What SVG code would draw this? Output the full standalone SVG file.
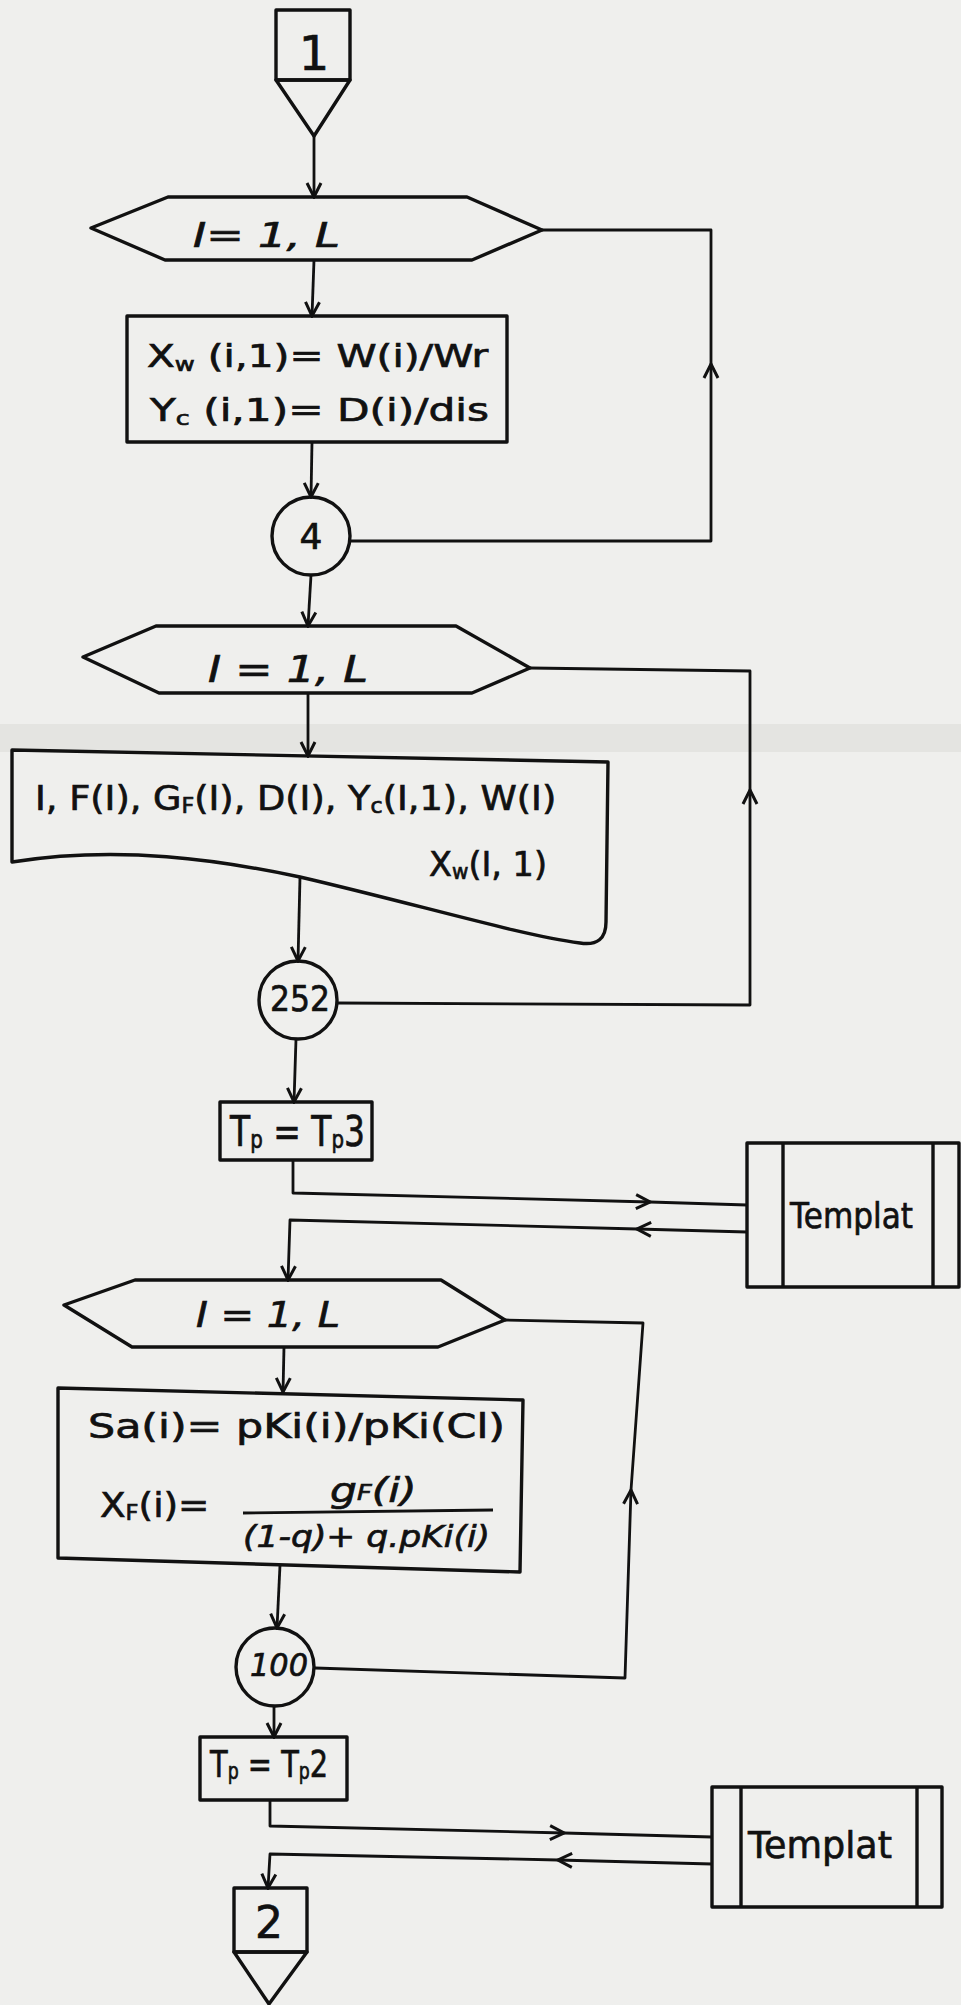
<svg xmlns="http://www.w3.org/2000/svg" width="961" height="2005" viewBox="0 0 961 2005">
  <defs>
    <marker id="arrow" viewBox="-16 -9 18 18" refX="0" refY="0" markerWidth="18" markerHeight="18" markerUnits="userSpaceOnUse" orient="auto">
      <path d="M -14,-7 L 0,0 L -14,7" fill="none" stroke="#111" stroke-width="3" stroke-linejoin="miter"/>
    </marker>
    <style>
      .shape { fill: none; stroke: #111; stroke-width: 3.4; stroke-linejoin: round; }
      .wire { fill: none; stroke: #111; stroke-width: 2.8; stroke-linejoin: round; }
      .t { font-family: "DejaVu Sans", "Liberation Sans", sans-serif; fill: #111; stroke: #111; stroke-width: 0.7; }
      .it { font-style: italic; }
      .sub { font-size: 60%; }
    </style>
  </defs>

  <!-- paper -->
  <rect x="0" y="0" width="961" height="2005" fill="#efefed"/>
  <rect x="0" y="724" width="961" height="28" fill="#d6d6d3" opacity="0.45"/>

  <!-- connectors -->
  <g id="connectors">
    <path class="wire" d="M314,136 L314,197" marker-end="url(#arrow)"/>
    <path class="wire" d="M314,260 L312,316" marker-end="url(#arrow)"/>
    <path class="wire" d="M312,442 L311,497" marker-end="url(#arrow)"/>
    <path class="wire" d="M350,541 L711,541 L711,364" marker-end="url(#arrow)"/>
    <path class="wire" d="M711,364 L711,230 L542,230"/>
    <path class="wire" d="M311,575 L308,626" marker-end="url(#arrow)"/>

    <path class="wire" d="M308,693 L308,756" marker-end="url(#arrow)"/>
    <path class="wire" d="M337,1003 L750,1005 L750,790" marker-end="url(#arrow)"/>
    <path class="wire" d="M750,790 L750,671 L530,668"/>
    <path class="wire" d="M300,877 L298,961" marker-end="url(#arrow)"/>

    <path class="wire" d="M296,1039 L294,1102" marker-end="url(#arrow)"/>
    <path class="wire" d="M293,1160 L293,1193 L650,1202" marker-end="url(#arrow)"/>
    <path class="wire" d="M650,1202 L747,1205"/>
    <path class="wire" d="M747,1232 L637,1229" marker-end="url(#arrow)"/>
    <path class="wire" d="M637,1229 L290,1220 L288,1280" marker-end="url(#arrow)"/>

    <path class="wire" d="M284,1347 L283,1392" marker-end="url(#arrow)"/>
    <path class="wire" d="M315,1668 L625,1678 L631,1490" marker-end="url(#arrow)"/>
    <path class="wire" d="M631,1490 L643,1323 L505,1320"/>
    <path class="wire" d="M280,1565 L277,1628" marker-end="url(#arrow)"/>

    <path class="wire" d="M274,1706 L274,1737" marker-end="url(#arrow)"/>
    <path class="wire" d="M270,1800 L270,1826 L564,1833" marker-end="url(#arrow)"/>
    <path class="wire" d="M564,1833 L712,1837"/>
    <path class="wire" d="M712,1864 L558,1860" marker-end="url(#arrow)"/>
    <path class="wire" d="M558,1860 L270,1854 L268,1888" marker-end="url(#arrow)"/>
  </g>

  <!-- off-page connector 1 -->
  <g id="start-1">
    <rect class="shape" x="276" y="10" width="74" height="70"/>
    <path class="shape" d="M276,80 L350,80 L314,136 Z"/>
    <text class="t" x="314" y="70" font-size="48" text-anchor="middle">1</text>
  </g>

  <!-- first loop -->
  <g id="loop-1">
    <path class="shape" d="M91,228 L168,197 L467,197 L542,230 L472,260 L165,260 Z"/>
    <text class="t it" x="193" y="247" font-size="34" textLength="147" lengthAdjust="spacingAndGlyphs">I= 1, L</text>
  </g>

  <g id="calc-1">
    <rect class="shape" x="127" y="316" width="380" height="126"/>
    <text class="t" font-size="32" transform="translate(147,367) scale(1.27,1)">X<tspan class="sub" dy="4">w</tspan><tspan dy="-4"> (i,1)= W(i)/Wr</tspan></text>
    <text class="t" font-size="32" transform="translate(150,421) scale(1.32,1)">Y<tspan class="sub" dy="4">c</tspan><tspan dy="-4"> (i,1)= D(i)/dis</tspan></text>
  </g>

  <g id="label-4">
    <circle class="shape" cx="311" cy="536" r="39"/>
    <text class="t" x="311" y="549" font-size="36" text-anchor="middle">4</text>
  </g>

  <!-- second loop -->
  <g id="loop-2">
    <path class="shape" d="M83,657 L156,626 L456,626 L530,668 L472,693 L159,693 Z"/>
    <text class="t it" x="208" y="682" font-size="38" textLength="160" lengthAdjust="spacingAndGlyphs">I = 1, L</text>
  </g>

  <g id="print-doc">
    <path class="shape" d="M12,750 L608,762 L606,922 Q606,947 580,943 C520,935 420,905 300,877 C220,860 120,845 12,862 Z"/>
    <text class="t" font-size="34" transform="translate(35,810) scale(1.08,1)">I, F(I), G<tspan class="sub" dy="3">F</tspan><tspan dy="-3">(I), D(I), Y</tspan><tspan class="sub" dy="3">c</tspan><tspan dy="-3">(I,1), W(I)</tspan></text>
    <text class="t" font-size="34" transform="translate(429,876) scale(0.985,1)">X<tspan class="sub" dy="3">w</tspan><tspan dy="-3">(I, 1)</tspan></text>
  </g>

  <g id="label-252">
    <circle class="shape" cx="298" cy="1000" r="39"/>
    <text class="t" x="270" y="1011" font-size="36" textLength="60" lengthAdjust="spacingAndGlyphs">252</text>
  </g>

  <g id="set-tp3">
    <rect class="shape" x="220" y="1102" width="152" height="58"/>
    <text class="t" font-size="42" transform="translate(230,1146) scale(0.785,1)">T<tspan class="sub" dy="2">p</tspan><tspan dy="-2"> = T</tspan><tspan class="sub" dy="2">p</tspan><tspan dy="-2">3</tspan></text>
  </g>

  <g id="templat-1">
    <rect class="shape" x="747" y="1143" width="212" height="144"/>
    <line class="shape" x1="783" y1="1143" x2="783" y2="1287"/>
    <line class="shape" x1="933" y1="1143" x2="933" y2="1287"/>
    <text class="t" x="790" y="1228" font-size="36" textLength="123" lengthAdjust="spacingAndGlyphs">Templat</text>
  </g>

  <!-- third loop -->
  <g id="loop-3">
    <path class="shape" d="M64,1305 L135,1280 L441,1280 L505,1320 L438,1347 L132,1347 Z"/>
    <text class="t it" x="196" y="1327" font-size="36" textLength="144" lengthAdjust="spacingAndGlyphs">I = 1, L</text>
  </g>

  <g id="calc-3">
    <path class="shape" d="M58,1388 L523,1400 L520,1572 L58,1558 Z"/>
    <text class="t" x="88" y="1438" font-size="34" textLength="417" lengthAdjust="spacingAndGlyphs">Sa(i)= pKi(i)/pKi(Cl)</text>
    <text class="t" font-size="34" transform="translate(100,1517) scale(1.1,1)">X<tspan class="sub" dy="3">F</tspan><tspan dy="-3">(i)=</tspan></text>
    <text class="t it" font-size="34" transform="translate(330,1502) scale(1.25,1)">g<tspan class="sub" dy="-2">F</tspan><tspan dy="2">(i)</tspan></text>
    <line class="wire" x1="243" y1="1513" x2="493" y2="1510"/>
    <text class="t it" x="243" y="1547" font-size="30" textLength="247" lengthAdjust="spacingAndGlyphs">(1-q)+ q.pKi(i)</text>
  </g>

  <g id="label-100">
    <circle class="shape" cx="275" cy="1667" r="39"/>
    <text class="t it" x="250" y="1676" font-size="32" textLength="58" lengthAdjust="spacingAndGlyphs">100</text>
  </g>

  <g id="set-tp2">
    <rect class="shape" x="200" y="1737" width="147" height="63"/>
    <text class="t" font-size="38" transform="translate(210,1777) scale(0.76,1)">T<tspan class="sub" dy="2">p</tspan><tspan dy="-2"> = T</tspan><tspan class="sub" dy="2">p</tspan><tspan dy="-2">2</tspan></text>
  </g>

  <g id="templat-2">
    <rect class="shape" x="712" y="1787" width="230" height="120"/>
    <line class="shape" x1="741" y1="1787" x2="741" y2="1907"/>
    <line class="shape" x1="917" y1="1787" x2="917" y2="1907"/>
    <text class="t" x="748" y="1858" font-size="38" textLength="144" lengthAdjust="spacingAndGlyphs">Templat</text>
  </g>

  <!-- off-page connector 2 -->
  <g id="end-2">
    <rect class="shape" x="234" y="1888" width="73" height="64"/>
    <path class="shape" d="M234,1952 L307,1952 L269,2004 Z"/>
    <text class="t" x="269" y="1938" font-size="44" text-anchor="middle">2</text>
  </g>
</svg>
